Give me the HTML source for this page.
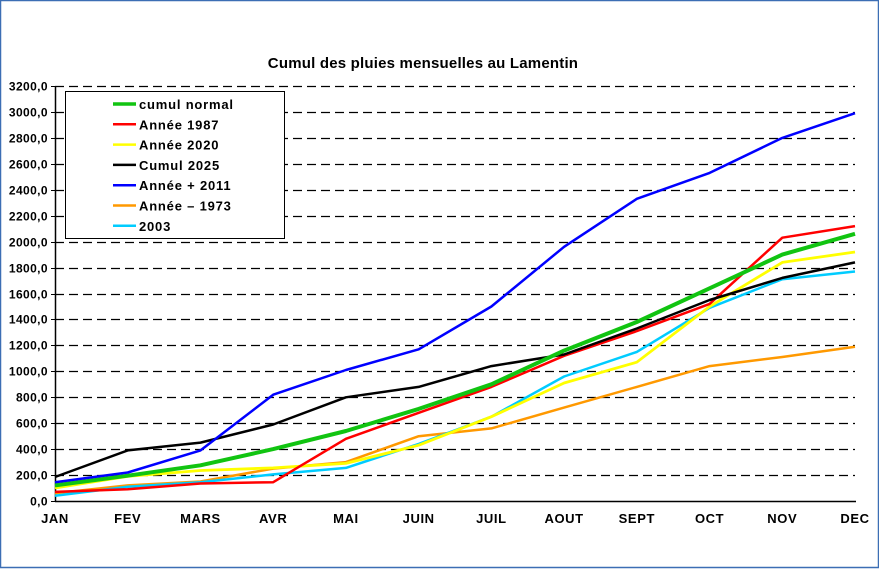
<!DOCTYPE html>
<html><head><meta charset="utf-8"><style>
html,body{margin:0;padding:0;background:#fff}
svg{display:block}
text{font-family:"Liberation Sans",Arial,sans-serif;font-weight:bold;fill:#000}
</style></head><body>
<svg id="c" width="879" height="569" xmlns="http://www.w3.org/2000/svg">
<rect x="0.5" y="0.5" width="878" height="567" fill="#fff" stroke="#3c6eb4" stroke-width="1.5"/>
<text x="423" y="68" font-size="15" text-anchor="middle" letter-spacing="0.2">Cumul des pluies mensuelles au Lamentin</text>
<g id="grid"></g>
<g id="series"></g>
<rect x="65.5" y="91.5" width="219" height="147" fill="#fff" stroke="#000" stroke-width="1"/>
<g id="legend"></g>
</svg>
<script>
var NS="http://www.w3.org/2000/svg";
function el(t,a,p,txt){var e=document.createElementNS(NS,t);for(var k in a)e.setAttribute(k,a[k]);if(txt!==undefined)e.textContent=txt;p.appendChild(e);return e;}
var g=document.getElementById('grid'),s=document.getElementById('series'),L=document.getElementById('legend');
var x0=55,dx=72.73,y0=501,sc=415/3200;
function Y(v){return y0-v*sc;}
for(var v=0;v<=3200;v+=200){
  var y=Math.round(Y(v))+0.5;
  if(v>0) el('line',{x1:x0,x2:855,y1:y,y2:y,stroke:'#000','stroke-width':1.2,'stroke-dasharray':'9,5'},g);
  el('line',{x1:x0-4,x2:x0,y1:y,y2:y,stroke:'#000'},g);
  el('text',{x:x0-7,y:y+4,'font-size':12,'text-anchor':'end','letter-spacing':0.4},g,(v===0?'0,0':v+',0'));
}
el('line',{x1:x0+0.5,x2:x0+0.5,y1:86,y2:502,stroke:'#000','stroke-width':1.5},g);
el('line',{x1:x0,x2:856,y1:501.5,y2:501.5,stroke:'#000','stroke-width':1.5},g);
var m=['JAN','FEV','MARS','AVR','MAI','JUIN','JUIL','AOUT','SEPT','OCT','NOV','DEC'];
m.forEach(function(t,i){el('text',{x:x0+i*dx,y:523,'font-size':13,'text-anchor':'middle','letter-spacing':0.6},g,t);});
var D=[
['cumul normal','#11c411',4,[120,195,275,400,540,710,900,1160,1380,1640,1900,2060]],
['Année 1987','#ff0000',2.5,[70,90,135,145,480,680,880,1120,1310,1520,2030,2120]],
['Année 2020','#ffff00',2.8,[100,190,235,255,290,430,650,910,1070,1500,1840,1920]],
['Cumul 2025','#000000',2.5,[185,390,450,590,800,880,1040,1130,1330,1550,1720,1840]],
['Année + 2011','#0000ff',2.5,[145,220,390,820,1010,1170,1500,1960,2330,2530,2800,2990]],
['Année – 1973','#ff9900',2.5,[60,120,150,250,300,500,560,720,880,1040,1110,1190]],
['2003','#00ccff',2.5,[40,110,145,205,255,440,650,960,1150,1490,1710,1770]]
];
var order=[5,6,2,1,3,0,4];
order.forEach(function(k){var d=D[k];
  el('polyline',{points:d[3].map(function(v,i){return (x0+i*dx).toFixed(1)+','+Y(v).toFixed(1);}).join(' '),fill:'none',stroke:d[1],'stroke-width':d[2],'stroke-linejoin':'round'},s);
});
D.forEach(function(d,i){var y=104+i*20.3;
  el('line',{x1:113,x2:136,y1:y,y2:y,stroke:d[1],'stroke-width':d[2]>3?3.5:2.5},L);
  el('text',{x:139,y:y+5,'font-size':13,'letter-spacing':0.8},L,d[0]);
});
</script>
</body></html>
